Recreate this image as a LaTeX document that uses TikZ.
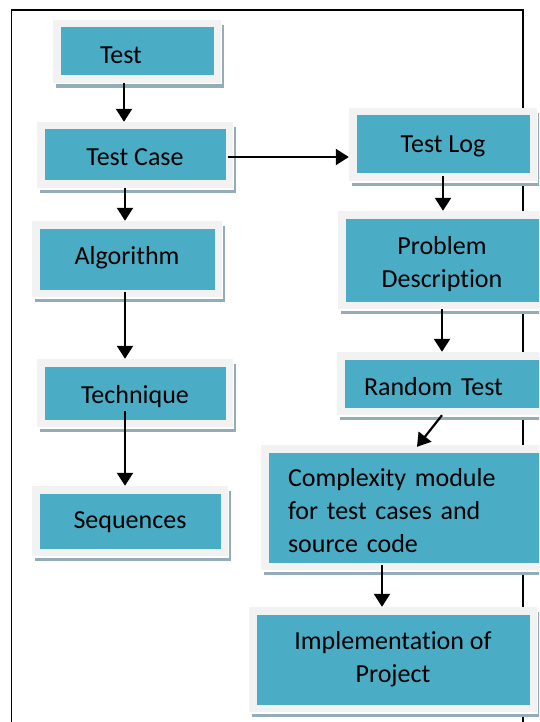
\documentclass[tikz,border=0pt]{standalone}
\usepackage{fontspec}
\setmainfont{Carlito}[Ligatures=CommonOff]
\usetikzlibrary{arrows.meta,shadows}
\definecolor{boxteal}{HTML}{4BACC6}
\definecolor{framegray}{HTML}{F2F2F2}
\definecolor{shadowblue}{HTML}{93ADB8}
\newcommand{\boxfont}{\fontsize{26}{33}\selectfont}
% lower a line of text inside its box, keeping the box size
\newcommand{\sunk}[2]{\raisebox{-#1}[\height][\depth]{#2}}

\tikzset{
  blockbox/.style={rectangle, fill=framegray, inner sep=0pt, font=\boxfont, align=center,
    path picture={\fill[boxteal] ([shift={(7.5pt,-7.5pt)}]path picture bounding box.north west)
      rectangle ([shift={(-7.5pt,7.5pt)}]path picture bounding box.south east);},
    drop shadow={shadow xshift=2.5pt, shadow yshift=-5pt, fill=shadowblue, opacity=1},
    drop shadow={shadow xshift=1pt, shadow yshift=-1.5pt, fill=white, opacity=1}},
  flowarrow/.style={line width=2.2pt, -{Triangle[width=16pt,length=13pt]}},
  frameline/.style={line width=1.4pt}
}

\begin{document}
\begin{tikzpicture}[x=1pt, y=-1pt]
    \useasboundingbox (0,0) rectangle (539,722);
    \clip (0,0) rectangle (539,722);
    % page frame, open at the bottom
    \draw[frameline] (11.5,740) -- (11.5,10) -- (523,10) -- (523,740);

    % left column
    \node[blockbox, minimum width=168pt, minimum height=63pt, text width=74pt, inner xsep=47pt, align=left] (test) at (137,51.5) {\sunk{4pt}{Test}};
    \node[blockbox, minimum width=196pt, minimum height=66pt] (testcase) at (135,155) {\sunk{2pt}{Test Case}};
    \node[blockbox, minimum width=190pt, minimum height=76pt] (algorithm) at (127,259) {\sunk{-1.5pt}{Algorithm}};
    \node[blockbox, minimum width=196pt, minimum height=68pt] (technique) at (135,393) {\sunk{3.5pt}{Technique}};
    \node[blockbox, minimum width=196pt, minimum height=70pt] (sequences) at (130,521) {\sunk{1.5pt}{Sequences}};

    % right column
    \node[blockbox, minimum width=188pt, minimum height=73pt] (testlog) at (443,144.5) {\sunk{1.5pt}{Test Log}};
    \node[blockbox, minimum width=208pt, minimum height=98pt] (problem) at (442,260) {\sunk{4pt}{Problem}\\\sunk{4pt}{Description}};
    \node[blockbox, minimum width=223pt, minimum height=63pt, text width=169pt, inner xsep=27pt, align=left] (random) at (448.5,383.5) {\sunk{3pt}{Random Test}};
    \node[blockbox, minimum width=299pt, minimum height=125pt, text width=245pt, inner xsep=27pt, align=left] (complexity) at (410.5,507.5) {\sunk{3pt}{Complexity module}\\\sunk{3pt}{for test cases and}\\\sunk{3pt}{source code}};
    \node[blockbox, minimum width=288pt, minimum height=105pt] (impl) at (393,659.5) {Implementation of\\Project};

    % arrows
    \draw[flowarrow] ([xshift=-13pt]test.south) -- ([xshift=-13pt]test.south |- testcase.north);
    \draw[flowarrow] ([xshift=-5pt,yshift=-2pt]testcase.east) -- ([yshift=-2pt]testcase.east -| testlog.west);
    \draw[flowarrow] ([xshift=-10pt]testcase.south) -- ([xshift=-10pt]testcase.south |- algorithm.north);
    \draw[flowarrow] ([xshift=-2pt,yshift=5pt]algorithm.south) -- ([xshift=-2pt]algorithm.south |- technique.north);
    \draw[flowarrow] ([xshift=-10pt,yshift=16pt]technique.south) -- ([xshift=-10pt]technique.south |- sequences.north);
    \draw[flowarrow] ([yshift=5pt]testlog.south) -- (testlog.south |- problem.north);
    \draw[flowarrow] (problem.south) -- (problem.south |- random.north);
    \draw[flowarrow] ([xshift=-6.5pt]random.south) -- ([xshift=6.5pt,yshift=-2pt]complexity.north);
    \draw[flowarrow] ([xshift=-28.5pt,yshift=5pt]complexity.south) -- ([xshift=-28.5pt]complexity.south |- impl.north);
\end{tikzpicture}
\end{document}
